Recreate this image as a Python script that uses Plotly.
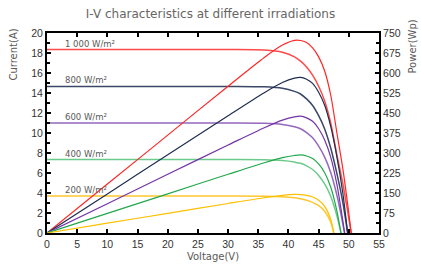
import plotly.graph_objects as go

# ---- data ----
irr_labels = ["1 000 W/m²", "800 W/m²", "600 W/m²", "400 W/m²", "200 W/m²"]
colors = ["#FF2626", "#1F2D50", "#7434A8", "#22A84C", "#FFC000"]
iv_colors = ["#FF4A4A", "#3A4766", "#9468C0", "#6CCB8C", "#FFC72E"]
isc = [18.35, 14.66, 11.0, 7.34, 3.69]

# I-V curves (voltage V, current A)
v_1000 = [0, 30, 36, 39, 41, 42, 43, 44, 45, 46, 47, 48, 49, 49.8, 50.4]
i_1000 = [18.35, 18.35, 18.29, 18.07, 17.62, 17.19, 16.61, 15.78, 14.68, 13.21, 11.01, 7.89, 4.95, 2.20, 0]
v_800 = [0, 30, 36, 39, 41, 42, 43, 44, 45, 46, 47, 48, 49, 49.8]
i_800 = [14.66, 14.66, 14.62, 14.47, 14.16, 13.90, 13.41, 12.75, 11.73, 10.41, 8.50, 6.01, 3.08, 0]
v_600 = [0, 30, 36, 39, 41, 42, 43, 44, 45, 46, 47, 48, 48.7, 49.3]
i_600 = [11.0, 11.0, 10.97, 10.86, 10.63, 10.43, 10.04, 9.52, 8.69, 7.59, 6.05, 3.85, 1.87, 0]
v_400 = [0, 30, 36, 39, 41, 42, 43, 44, 45, 46, 47, 48, 48.7]
i_400 = [7.34, 7.34, 7.32, 7.24, 7.09, 6.97, 6.72, 6.35, 5.76, 4.92, 3.67, 1.76, 0]
v_200 = [0, 30, 36, 39, 41, 42, 43, 44, 45, 46, 47, 47.5]
i_200 = [3.69, 3.69, 3.67, 3.62, 3.52, 3.43, 3.28, 3.06, 2.73, 2.18, 1.11, 0]

# P-V curves (voltage V, power Wp)
pv_1000 = [0, 10, 20, 30, 36, 39, 41, 42, 43, 44, 45, 46, 47, 48, 49, 49.8, 50.4]
p_1000 = [0, 183.5, 367.0, 550.5, 658.4, 704.7, 722.4, 722.0, 714.2, 694.3, 660.6, 607.7, 517.5, 378.7, 242.6, 109.6, 0]
pv_800 = [0, 10, 20, 30, 36, 39, 41, 42, 43, 44, 45, 46, 47, 48, 49, 49.8]
p_800 = [0, 146.6, 293.2, 439.8, 526.2, 564.3, 580.6, 583.7, 576.8, 561.2, 527.8, 478.8, 399.6, 288.5, 150.9, 0]
pv_600 = [0, 10, 20, 30, 36, 39, 41, 42, 43, 44, 45, 46, 47, 48, 48.7, 49.3]
p_600 = [0, 110.0, 220.0, 330.0, 394.9, 423.5, 435.8, 438.1, 431.7, 418.9, 391.1, 349.1, 284.4, 184.8, 91.1, 0]
pv_400 = [0, 10, 20, 30, 36, 39, 41, 42, 43, 44, 45, 46, 47, 48, 48.7]
p_400 = [0, 73.4, 146.8, 220.2, 263.4, 282.6, 290.7, 292.9, 288.8, 279.4, 259.3, 226.2, 172.5, 84.6, 0]
pv_200 = [0, 10, 20, 30, 36, 39, 41, 42, 43, 44, 45, 46, 47, 47.5]
p_200 = [0, 36.9, 73.8, 110.7, 132.2, 141.0, 144.5, 144.1, 141.2, 134.8, 122.9, 100.1, 52.0, 0]

x_ticks = [0, 5, 10, 15, 20, 25, 30, 35, 40, 45, 50, 55]
y_ticks = [0, 2, 4, 6, 8, 10, 12, 14, 16, 18, 20]
y2_ticks = [0, 75, 150, 225, 300, 375, 450, 525, 600, 675, 750]

iv_sets = [(v_1000, i_1000), (v_800, i_800), (v_600, i_600), (v_400, i_400), (v_200, i_200)]
pv_sets = [(pv_1000, p_1000), (pv_800, p_800), (pv_600, p_600), (pv_400, p_400), (pv_200, p_200)]

fig = go.Figure()
for k, (vv, ii) in enumerate(iv_sets):
    fig.add_trace(go.Scatter(x=vv, y=ii, mode="lines", line=dict(color=iv_colors[k], width=1.5, shape="spline", smoothing=0.8),
                             showlegend=False, hoverinfo="skip"))
for k, (vv, pp) in enumerate(pv_sets):
    fig.add_trace(go.Scatter(x=vv, y=pp, mode="lines", yaxis="y2", line=dict(color=colors[k], width=1.2, shape="spline", smoothing=0.8),
                             showlegend=False, hoverinfo="skip"))

for k, lab in enumerate(irr_labels):
    fig.add_annotation(x=2.6, y=isc[k], xref="x", yref="y", text=lab, showarrow=False,
                       xanchor="left", yanchor="bottom", yshift=-1,
                       font=dict(family="DejaVu Sans", size=8.5, color="#595959"))

tickfont = dict(family="Liberation Sans", size=10.5, color="#333333")
fig.update_layout(
    width=421, height=273,
    margin=dict(l=47, r=42, t=33, b=40),
    paper_bgcolor="white", plot_bgcolor="white",
    title=dict(text="I-V characteristics at different irradiations", x=0.5, xanchor="center", y=0.95, yanchor="middle",
               font=dict(family="DejaVu Sans", size=12, color="#666666")),
    xaxis=dict(range=[0, 55], tickvals=x_ticks, showgrid=False, zeroline=False, automargin=False,
               showline=True, linecolor="black", linewidth=2, mirror="ticks",
               ticks="inside", ticklen=4, tickwidth=1.5, tickcolor="black", tickfont=tickfont,
               title=dict(text="Voltage(V)", font=dict(family="DejaVu Sans", size=10, color="#595959"), standoff=4)),
    yaxis=dict(range=[0, 20], tickvals=y_ticks, showgrid=False, zeroline=False, automargin=False,
               showline=True, linecolor="black", linewidth=2,
               ticks="inside", ticklen=4, tickwidth=1.5, tickcolor="black", tickfont=tickfont,
               minor=dict(dtick=1, ticks="inside", ticklen=3, tickwidth=1.5, tickcolor="black")),
    yaxis2=dict(range=[0, 750], tickvals=y2_ticks, overlaying="y", side="right", showgrid=False, zeroline=False,
                automargin=False, showline=True, linecolor="black", linewidth=2,
                ticks="inside", ticklen=4, tickwidth=1.5, tickcolor="black", tickfont=tickfont,
                minor=dict(dtick=37.5, ticks="inside", ticklen=3, tickwidth=1.5, tickcolor="black")),
)
fig.add_annotation(xref="paper", yref="paper", x=(14 - 47) / 332, y=(233 - 54) / 200.6, text="Current(A)",
                   showarrow=False, textangle=-90, xanchor="center", yanchor="middle",
                   font=dict(family="DejaVu Sans", size=10, color="#595959"))
fig.add_annotation(xref="paper", yref="paper", x=(413 - 47) / 332, y=(233 - 46) / 200.6, text="Power(Wp)",
                   showarrow=False, textangle=-90, xanchor="center", yanchor="middle",
                   font=dict(family="DejaVu Sans", size=10, color="#595959"))

fig.write_html("out.html", config={"displayModeBar": False}, post_script="document.body.style.margin='0';")
